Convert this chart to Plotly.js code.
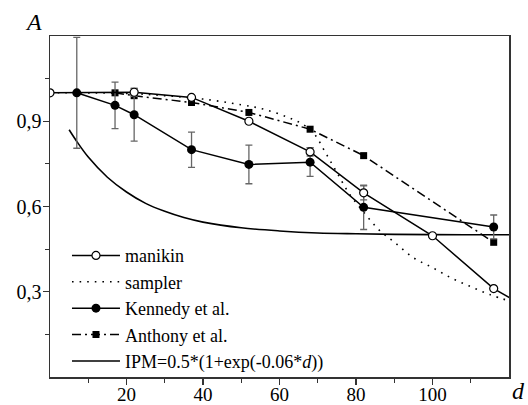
<!DOCTYPE html>
<html>
<head>
<meta charset="utf-8">
<script src="https://cdn.plot.ly/plotly-3.0.1.min.js"></script>
<style>html,body{margin:0;padding:0;background:#fff;}#chart{width:528px;height:405px;}</style>
</head>
<body>
<div id="chart"></div>
<script>
// Data
const manikinD = [0, 22, 37, 52, 68, 82, 100, 116, 124];
const manikinA = [1.0, 1.002, 0.984, 0.90, 0.792, 0.648, 0.497, 0.311, 0.25];
const manikinErr = [0, 0.014, 0, 0, 0.015, 0.025, 0, 0, 0];

const samplerD = [0, 20, 30, 40, 50, 56, 62, 66, 69, 72, 75, 78, 82, 86, 90, 95, 100, 105, 110, 115, 120];
const samplerA = [1.0, 0.998, 0.99, 0.978, 0.958, 0.942, 0.915, 0.89, 0.857, 0.79, 0.72, 0.65, 0.58, 0.518, 0.475, 0.42, 0.385, 0.348, 0.318, 0.29, 0.268];

const kennedyD = [7, 17, 22, 37, 52, 68, 82, 116];
const kennedyA = [1.0, 0.956, 0.923, 0.80, 0.748, 0.756, 0.597, 0.528];
const kennedyErr = [0.195, 0.082, 0.093, 0.062, 0.068, 0.05, 0.078, 0.042];

const anthonyD = [17, 22, 37, 52, 68, 82, 116];
const anthonyA = [1.0, 0.99, 0.966, 0.931, 0.872, 0.779, 0.474];

const ipmD = [5, 7, 10, 15, 20, 25, 30, 35, 40, 50, 60, 70, 80, 90, 100, 110, 120];
const ipmA = [0.870, 0.829, 0.774, 0.703, 0.651, 0.611, 0.583, 0.561, 0.545, 0.525, 0.514, 0.507, 0.504, 0.502, 0.501, 0.5006, 0.5004];

const xTickVals = [20, 40, 60, 80, 100];
const xTickText = ['20', '40', '60', '80', '100'];
const xMinorVals = [10, 30, 50, 70, 90, 110];
const yTickVals = [0.3, 0.6, 0.9];
const yTickText = ['0,3', '0,6', '0,9'];
const yMinorVals = [0.15, 0.45, 0.75, 1.05];

const legendNames = ['manikin', 'sampler', 'Kennedy et al.', 'Anthony et al.', 'IPM=0.5*(1+exp(-0.06*<i>d</i>))'];

const errStyle = {color: '#666', thickness: 1.3, width: 3.5};

const traces = [
  {x: ipmD, y: ipmA, name: legendNames[4], legendrank: 5, mode: 'lines',
   line: {color: '#000', width: 1.6, shape: 'spline'}},
  {x: samplerD, y: samplerA, name: legendNames[1], legendrank: 2, mode: 'lines',
   line: {color: '#000', width: 1.6, shape: 'spline', dash: '1.6px,6px'}},
  {x: anthonyD, y: anthonyA, name: legendNames[3], legendrank: 4, mode: 'lines+markers',
   line: {color: '#000', width: 1.5, dash: '9px,4px,2px,4px'},
   marker: {symbol: 'square', size: 7, color: '#000'}},
  {x: kennedyD, y: kennedyA, name: legendNames[2], legendrank: 3, mode: 'lines+markers',
   line: {color: '#000', width: 1.5},
   marker: {symbol: 'circle', size: 9, color: '#000'},
   error_y: Object.assign({type: 'data', array: kennedyErr, visible: true}, errStyle)},
  {x: manikinD, y: manikinA, name: legendNames[0], legendrank: 1, mode: 'lines+markers',
   line: {color: '#000', width: 1.5},
   marker: {symbol: 'circle', size: 8, color: '#fff', line: {color: '#000', width: 1.2}},
   error_y: Object.assign({type: 'data', array: manikinErr, visible: true}, errStyle)}
];

const fam = '"Liberation Serif", "Times New Roman", serif';
const font = {family: fam, size: 20, color: '#000'};

const layout = {
  width: 528, height: 405,
  margin: {l: 50, r: 19, t: 36, b: 28},
  paper_bgcolor: '#fff', plot_bgcolor: '#fff',
  font: font,
  showlegend: true,
  legend: {x: 0.037, y: 0.41, xanchor: 'left', yanchor: 'top', bgcolor: 'rgba(0,0,0,0)',
           font: {family: fam, size: 18, color: '#000'}, itemwidth: 48, tracegroupgap: 0},
  xaxis: {range: [0, 120], showgrid: false, zeroline: false,
          showline: true, linecolor: '#333', linewidth: 1.5, mirror: true,
          ticks: 'outside', ticklen: 6, tickwidth: 1.2, tickcolor: '#333',
          tickvals: xTickVals, ticktext: xTickText, tickfont: {family: fam, size: 19, color: '#000'},
          ticklabelstandoff: -6,
          minor: {tickvals: xMinorVals, ticks: 'outside', ticklen: 4, tickwidth: 1.2, tickcolor: '#333'}},
  yaxis: {range: [0, 1.2], showgrid: false, zeroline: false,
          showline: true, linecolor: '#333', linewidth: 1.5, mirror: true,
          ticks: 'outside', ticklen: 6, tickwidth: 1.2, tickcolor: '#333',
          tickvals: yTickVals, ticktext: yTickText, tickfont: {family: fam, size: 20, color: '#000'},
          ticklabelstandoff: -3,
          minor: {tickvals: yMinorVals, ticks: 'outside', ticklen: 4, tickwidth: 1.2, tickcolor: '#333'}},
  annotations: [
    {text: '<i>A</i>', xref: 'paper', yref: 'paper', x: -0.035, y: 1.0, yshift: 14, showarrow: false,
     xanchor: 'center', yanchor: 'middle', font: {family: fam, size: 24, color: '#000'}},
    {text: '<i>d</i>', xref: 'paper', yref: 'paper', x: 1.0, y: 0, xshift: 9, yshift: -14, showarrow: false,
     xanchor: 'center', yanchor: 'middle', font: {family: fam, size: 24, color: '#000'}}
  ]
};

Plotly.newPlot('chart', traces, layout, {displayModeBar: false, staticPlot: true});
</script>
</body>
</html>
